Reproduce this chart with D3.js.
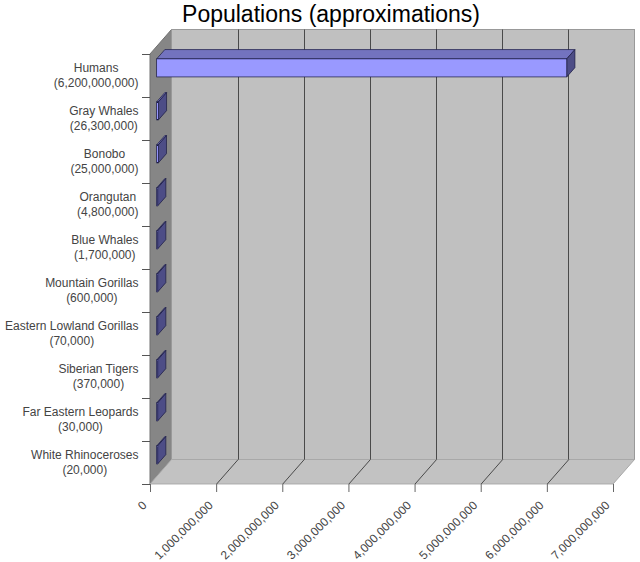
<!DOCTYPE html>
<html>
<head>
<meta charset="utf-8">
<script src="https://cdn.jsdelivr.net/npm/d3@7"></script>
<style>
  body { margin: 0; background: #fff; }
  text { font-family: Arial, "Liberation Sans", sans-serif; }
</style>
</head>
<body>
<script>
var categories = ["Humans", "Gray Whales", "Bonobo", "Orangutan", "Blue Whales",
                  "Mountain Gorillas", "Eastern Lowland Gorillas", "Siberian Tigers",
                  "Far Eastern Leopards", "White Rhinoceroses"];
var values = [6200000000, 26300000, 25000000, 4800000, 1700000,
              600000, 70000, 370000, 30000, 20000];
var xTicks = [0, 1000000000, 2000000000, 3000000000, 4000000000,
              5000000000, 6000000000, 7000000000];

function init() {
    var w = 640, h = 562;
    var plotL = 150, plotR = 613, plotT = 54, plotB = 484;
    var depthX = 21.5, depthY = -24.5;      // offset of the back wall
    var barFront = 0.31, barBack = 0.69;    // bar depth as fraction of the box
    var fmt = d3.format(",");

    var xScale = d3.scaleLinear()
        .domain([0, 7000000000])
        .range([plotL, plotR]);

    var yScale = d3.scaleBand()
        .domain(categories)
        .range([plotT, plotB]);

    var svg = d3.select("body")
        .append("svg")
        .attr("width", w)
        .attr("height", h);

    function pts(arr) {
        return arr.map(function(p) { return p[0] + "," + p[1]; }).join(" ");
    }

    // side wall
    svg.append("polygon")
        .attr("points", pts([[plotL, plotT], [plotL + depthX, plotT + depthY],
                             [plotL + depthX, plotB + depthY], [plotL, plotB]]))
        .attr("fill", "#868686")
        .attr("stroke", "#707070")
        .attr("stroke-width", 1);

    // back wall
    svg.append("rect")
        .attr("x", plotL + depthX)
        .attr("y", plotT + depthY)
        .attr("width", plotR - plotL)
        .attr("height", plotB - plotT)
        .attr("fill", "#c0c0c0")
        .attr("stroke", "#999")
        .attr("stroke-width", 1);

    // floor
    svg.append("polygon")
        .attr("points", pts([[plotL, plotB], [plotL + depthX, plotB + depthY],
                             [plotR + depthX, plotB + depthY], [plotR, plotB]]))
        .attr("fill", "#c2c2c2")
        .attr("stroke", "#a8a8a8")
        .attr("stroke-width", 1);

    // floor front edge highlight
    svg.append("line")
        .attr("x1", plotL).attr("x2", plotR)
        .attr("y1", plotB + 0.5).attr("y2", plotB + 0.5)
        .attr("stroke", "#d8d8d8");

    // grid lines on back wall
    var inner = xTicks.slice(1, xTicks.length - 1);
    svg.selectAll(".grid")
        .data(inner)
        .enter()
        .append("line")
        .attr("class", "grid")
        .attr("x1", function(d) { return Math.round(xScale(d) + depthX) + 0.5; })
        .attr("x2", function(d) { return Math.round(xScale(d) + depthX) + 0.5; })
        .attr("y1", plotT + depthY)
        .attr("y2", plotB + depthY)
        .attr("stroke", "#4a4a4a");

    // grid lines on floor
    svg.selectAll(".floorgrid")
        .data(inner)
        .enter()
        .append("line")
        .attr("class", "floorgrid")
        .attr("x1", function(d) { return xScale(d) + depthX + 0.5; })
        .attr("y1", plotB + depthY)
        .attr("x2", function(d) { return xScale(d) + 0.5; })
        .attr("y2", plotB)
        .attr("stroke", "#4a4a4a");

    // bars
    var fx = depthX * barFront, fy = depthY * barFront;
    var bx = depthX * barBack, by = depthY * barBack;
    var barH = yScale.bandwidth() * 0.42;

    svg.selectAll(".bar")
        .data(values)
        .enter()
        .append("g")
        .attr("class", "bar")
        .each(function(d, i) {
            var g = d3.select(this);
            var x0 = xScale(0) + fx;
            var x1 = Math.max(xScale(d) + fx, x0 + 1);
            var yc = yScale(categories[i]) + yScale.bandwidth() / 2 + fy;
            var y0 = yc - barH / 2, y1 = yc + barH / 2;
            var dx = bx - fx, dy = by - fy;

            // top face
            g.append("polygon")
                .attr("points", pts([[x0, y0], [x0 + dx, y0 + dy], [x1 + dx, y0 + dy], [x1, y0]]))
                .attr("fill", "#7373bf")
                .attr("stroke", "#1a1a40")
                .attr("stroke-width", 0.7)
                .attr("stroke-linejoin", "round");
            // end face
            g.append("polygon")
                .attr("points", pts([[x1, y0], [x1 + dx, y0 + dy], [x1 + dx, y1 + dy], [x1, y1]]))
                .attr("fill", "#4d4d86")
                .attr("stroke", "#1a1a40")
                .attr("stroke-width", 0.7)
                .attr("stroke-linejoin", "round");
            // front face
            g.append("rect")
                .attr("x", x0)
                .attr("y", y0)
                .attr("width", x1 - x0)
                .attr("height", y1 - y0)
                .attr("fill", "#9999ff")
                .attr("stroke", "#1a1a40")
                .attr("stroke-width", 0.7);
        });

    // y ticks at band edges
    var edges = categories.map(function(c) { return yScale(c); }).concat([plotB]);
    svg.selectAll(".ytick")
        .data(edges)
        .enter()
        .append("line")
        .attr("class", "ytick")
        .attr("x1", plotL - 8)
        .attr("x2", plotL)
        .attr("y1", function(d) { return Math.round(d) + 0.5; })
        .attr("y2", function(d) { return Math.round(d) + 0.5; })
        .attr("stroke", "#555");

    // category labels: block right-aligned, each line centred in block
    var labelRight = 138.5;
    var labels = svg.selectAll(".ylabel")
        .data(categories)
        .enter()
        .append("text")
        .attr("class", "ylabel")
        .attr("text-anchor", "middle")
        .attr("font-size", "12px")
        .attr("fill", "#444");

    var line1 = labels.append("tspan")
        .attr("y", function(d) { return yScale(d) + yScale.bandwidth() / 2 - 4; })
        .text(function(d) { return d; });

    var line2 = labels.append("tspan")
        .attr("y", function(d) { return yScale(d) + yScale.bandwidth() / 2 + 11.5; })
        .text(function(d, i) { return "(" + fmt(values[i]) + ")"; });

    labels.each(function() {
        var spans = d3.select(this).selectAll("tspan");
        var maxW = 0;
        spans.each(function() { maxW = Math.max(maxW, this.getComputedTextLength()); });
        spans.attr("x", labelRight - maxW / 2);
    });

    // x axis
    var xAxis = d3.axisBottom(xScale)
        .tickValues(xTicks)
        .tickFormat(fmt)
        .tickSize(8)
        .tickPadding(0);

    var gx = svg.append("g")
        .attr("transform", "translate(0," + plotB + ")")
        .call(xAxis);

    gx.select(".domain").remove();
    gx.selectAll(".tick line").attr("stroke", "#666");
    gx.selectAll(".tick text")
        .attr("font-size", "12px")
        .attr("font-family", "Arial, 'Liberation Sans', sans-serif")
        .attr("fill", "#444")
        .attr("text-anchor", "end")
        .attr("dy", null)
        .attr("y", null)
        .attr("transform", "translate(-3,22) rotate(-45)");

    // title
    svg.append("text")
        .attr("x", 331)
        .attr("y", 22)
        .attr("text-anchor", "middle")
        .attr("font-size", "23px")
        .attr("fill", "#000")
        .text("Populations (approximations)");
}
window.onload = init;
</script>
</body>
</html>
